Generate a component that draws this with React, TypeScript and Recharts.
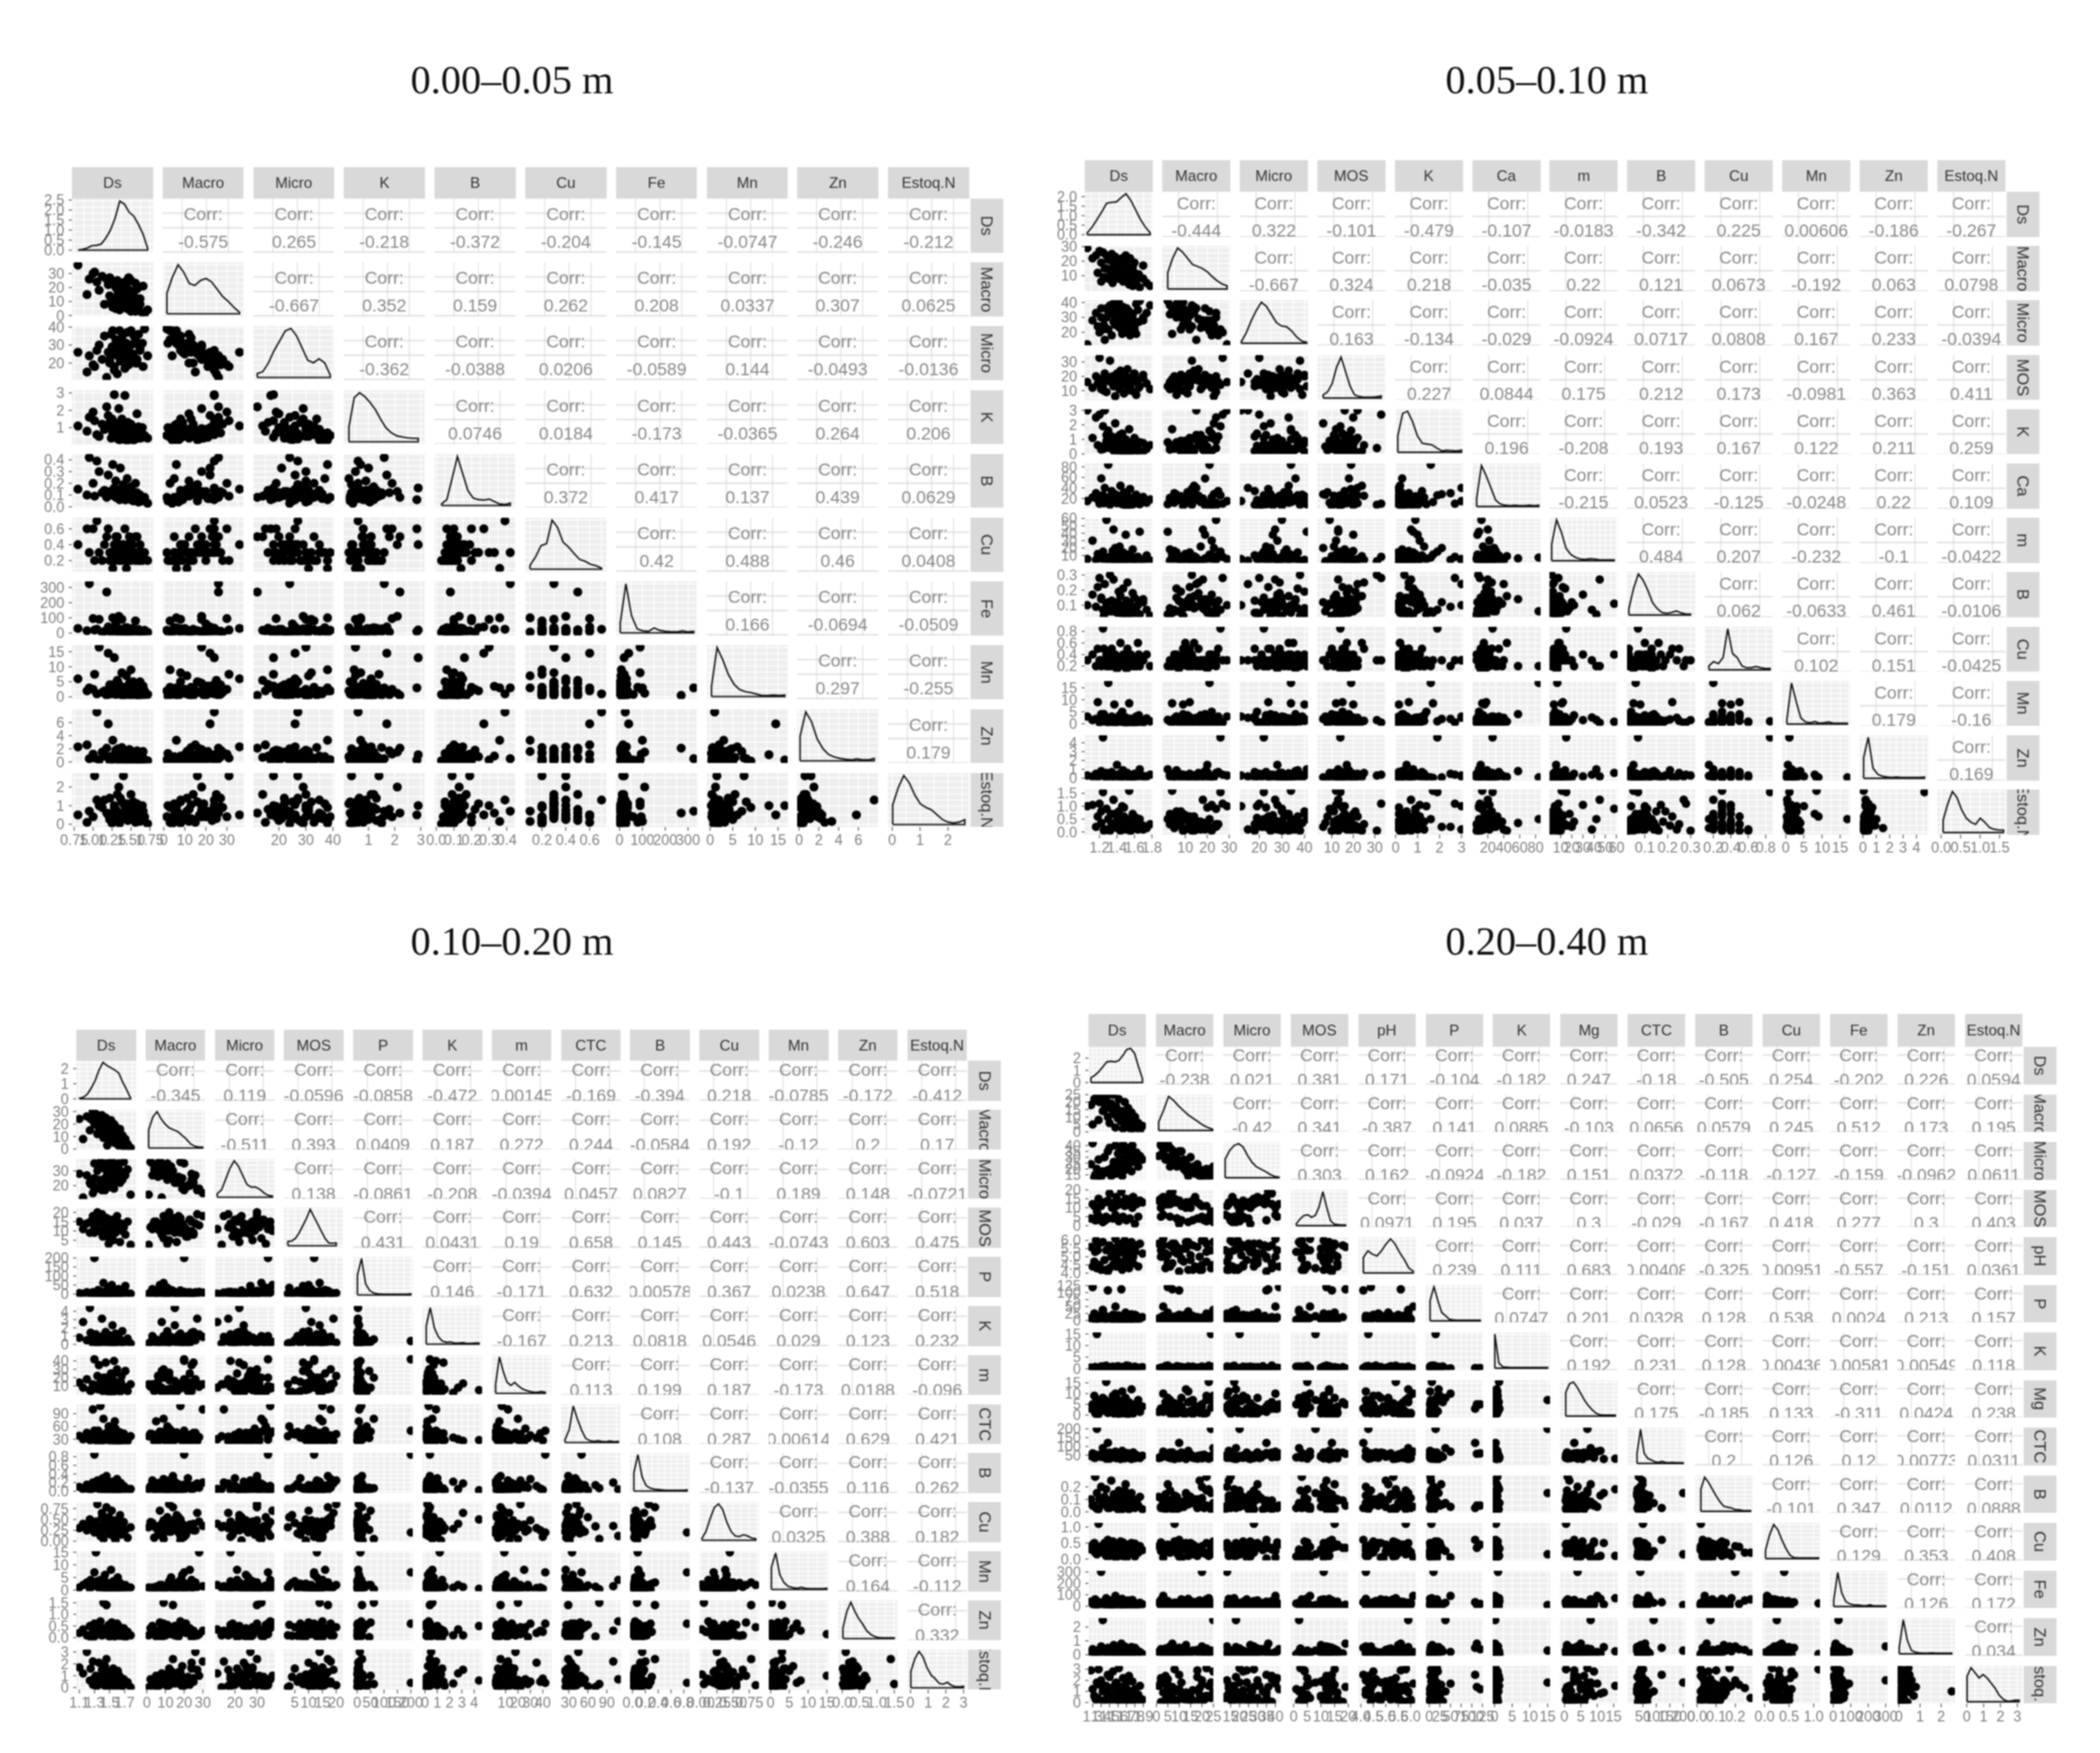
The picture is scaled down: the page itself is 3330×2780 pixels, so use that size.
import React from 'react';
import { ScatterChart, Scatter, LineChart, Line, XAxis, YAxis, CartesianGrid } from 'recharts';

// ---------- 0.00-0.05 m ----------
const m1Title = '0.00–0.05 m';
const m1Names = ['Ds', 'Macro', 'Micro', 'K', 'B', 'Cu', 'Fe', 'Mn', 'Zn', 'Estoq.N'];
const m1Ds = [0.8,0.92,0.95,1.0,1.02,1.05,1.08,1.12,1.15,1.18,1.2,1.22,1.24,1.26,1.28,1.3,1.3,1.32,1.34,1.35,1.36,1.38,1.38,1.4,1.42,1.44,1.45,1.46,1.48,1.5,1.5,1.52,1.54,1.56,1.58,1.6,1.62,1.65,1.68,1.72];
const m1Macro = [36,15,26,30,31,24,18,28,8,26,22,27,12,6,24,20,12,25,18,4,22,13,8,16,24,11,5,9,18,14,3,10,7,3,12,5,8,2,1.5,4];
const m1Micro = [26,15,24,19,18,27,30,22,35,12,26,22,36,38,18,25,30,14,29,38,21,34,32,27,17,31,37,28,24,30,38,25,35,33,20,36,27,31,39,24];
const m1K = [1.1,0.8,1.6,1.9,1.4,0.6,0.5,1.2,0.9,2.2,1.7,1.3,0.4,0.7,2.9,0.6,0.9,1.1,2.1,0.3,1.0,1.5,0.7,0.35,2.85,0.5,0.25,1.3,0.8,1.2,0.45,0.95,0.3,0.6,1.8,0.7,0.4,1.0,0.55,0.4];
const m1B = [0.15,0.1,0.42,0.2,0.09,0.39,0.3,0.12,0.14,0.08,0.27,0.13,0.11,0.36,0.16,0.1,0.22,0.09,0.13,0.07,0.33,0.12,0.1,0.19,0.06,0.14,0.24,0.08,0.11,0.17,0.06,0.13,0.09,0.2,0.12,0.07,0.1,0.05,0.08,0.03];
const m1Cu = [0.4,0.6,0.3,0.6,0.2,0.7,0.3,0.2,0.4,0.5,0.6,0.3,0.3,0.1,0.4,0.2,0.3,0.5,0.4,0.2,0.3,0.2,0.3,0.4,0.6,0.1,0.3,0.2,0.5,0.3,0.2,0.4,0.3,0.2,0.5,0.3,0.4,0.2,0.3,0.2];
const m1Fe = [30,15,325,95,20,25,90,5,10,270,40,12,8,100,20,60,5,18,110,3,25,8,90,14,10,6,35,22,4,12,8,30,15,80,7,20,3,9,18,5];
const m1Mn = [6,2,3,2.5,7.5,1,16.5,1.5,2,0.5,14.5,4,1,3,13,0.8,2.5,5.5,1.2,2,3.5,0.6,8,1.5,3,7,2,1.2,4.5,0.4,9,2.5,1,3.2,0.7,1.8,5,0.3,2,0.8];
const m1Zn = [2.3,2.6,0.5,1.2,0.6,7.6,0.3,1.5,0.9,2.1,5.8,0.8,0.4,3.3,1.1,0.3,1.8,0.7,1.5,0.2,0.9,2.2,0.5,1.2,0.3,1.6,0.8,0.2,1.9,0.5,0.15,1.1,0.6,0.25,1.7,0.4,0.1,1.3,0.35,0.2];
const m1Est = [0.5,0.1,0.7,0.4,2.6,1.3,1.0,0.9,1.3,0.6,0.5,1.4,0.3,0.15,1.0,0.4,0.8,1.6,2.0,0.05,0.6,0.3,1.2,2.6,0.5,0.7,1.1,0.2,0.4,1.6,0.9,0.3,0.6,0.1,0.8,0.5,0.25,1.0,0.4,0.02];
const m1Base = [m1Ds, m1Macro, m1Micro, m1K, m1B, m1Cu, m1Fe, m1Mn, m1Zn, m1Est];
const m1More = [
  [1.44,1.22,1.58,1.35,1.28,1.62,1.47,1.3,1.53,1.4,1.25,1.66,1.36,1.5,1.43,1.33,1.56,1.41,1.6,1.46],
  [22,14,19,9,24,12,27,5,16,20,8,21,11,25,6,17,23,13,7,18],
  [24,20,22,26,16,28,19,33,25,23,29,18,27,21,31,24,20,26,30,22],
  [0.6,1.0,0.4,0.8,1.3,0.5,0.7,1.1,0.3,0.9,1.5,0.45,0.65,0.85,1.2,0.35,0.75,0.55,1.05,0.95],
  [0.07,0.12,0.1,0.06,0.14,0.09,0.11,0.08,0.05,0.13,0.1,0.07,0.15,0.09,0.06,0.12,0.08,0.11,0.04,0.1],
  [0.3,0.2,0.3,0.4,0.3,0.2,0.3,0.5,0.3,0.4,0.2,0.3,0.3,0.4,0.2,0.3,0.5,0.3,0.2,0.4],
  [10,25,6,18,32,12,4,22,15,8,28,3,20,14,35,9,17,6,24,11],
  [1.2,3,0.6,2.2,4.2,1.5,0.9,2.8,5,0.5,1.8,3.6,1,2.4,0.7,4.8,1.4,3.2,0.4,2],
  [0.7,0.2,1.4,0.5,0.9,0.3,1.8,0.6,0.15,1.1,0.4,1.6,0.25,0.8,0.35,2,0.5,1.2,0.1,0.65],
  [0.6,0.25,1.1,0.45,0.8,0.15,0.95,0.35,1.2,0.55,0.05,0.7,1.4,0.3,0.9,0.5,0.2,1.05,0.4,0.75],
];
const m1Density = [
  [0,0.04,0.1,0.22,0.24,0.3,0.6,1,1.6,2.45,2.3,1.9,1.7,1.3,0.8,0.1],
  [0.42,0.75,1,0.85,0.62,0.58,0.68,0.72,0.65,0.5,0.35,0.25,0.13,0.03],
  [0.08,0.12,0.3,0.55,0.75,0.95,1,0.85,0.6,0.35,0.3,0.38,0.3,0.05],
  [0.3,0.9,1,0.92,0.8,0.65,0.45,0.28,0.18,0.12,0.1,0.08,0.07,0.07],
  [0.03,0.12,0.55,1,0.65,0.3,0.15,0.12,0.11,0.13,0.08,0.03,0.02,0.05],
  [0.08,0.25,0.48,0.52,1,0.85,0.55,0.45,0.32,0.2,0.16,0.1,0.07,0.02],
  [0.2,1,0.35,0.08,0.04,0.03,0.1,0.05,0.03,0.02,0.02,0.04,0.02,0.03],
  [0.2,1,0.75,0.45,0.25,0.14,0.1,0.08,0.05,0.02,0.02,0.03,0.02,0.03],
  [0.5,1,0.8,0.45,0.25,0.13,0.08,0.05,0.03,0.02,0.04,0.02,0.02,0.05],
  [0.4,0.75,1,0.85,0.6,0.42,0.35,0.3,0.2,0.1,0.05,0.03,0.05,0.1],
];
const m1Domains = [[0.72,1.79],[-0.5,38],[10.6,40.6],[0.05,3.15],[-0.01,0.45],[0.06,0.74],[-15,340],[-0.7,17.2],[-0.2,8],[-0.15,2.75]];
const m1Ticks = [['0.75','1.00','1.25','1.50','1.75'],['0','10','20','30'],['20','30','40'],['1','2','3'],['0.0','0.1','0.2','0.3','0.4'],['0.2','0.4','0.6'],['0','100','200','300'],['0','5','10','15'],['0','2','4','6'],['0','1','2']];
const m1DensTicks = ['0.0','0.5','1.0','1.5','2.0','2.5'];
const m1Corr = [
  ['-0.575','0.265','-0.218','-0.372','-0.204','-0.145','-0.0747','-0.246','-0.212'],
  ['-0.667','0.352','0.159','0.262','0.208','0.0337','0.307','0.0625'],
  ['-0.362','-0.0388','0.0206','-0.0589','0.144','-0.0493','-0.0136'],
  ['0.0746','0.0184','-0.173','-0.0365','0.264','0.206'],
  ['0.372','0.417','0.137','0.439','0.0629'],
  ['0.42','0.488','0.46','0.0408'],
  ['0.166','-0.0694','-0.0509'],
  ['0.297','-0.255'],
  ['0.179'],
];

// ---------- 0.05-0.10 m ----------
const m2Title = '0.05–0.10 m';
const m2Names = ['Ds','Macro','Micro','MOS','K','Ca','m','B','Cu','Mn','Zn','Estoq.N'];
const m2Ds = [1.06,1.12,1.16,1.18,1.2,1.22,1.24,1.26,1.28,1.3,1.32,1.34,1.36,1.37,1.38,1.4,1.42,1.43,1.44,1.46,1.47,1.48,1.5,1.51,1.52,1.54,1.55,1.56,1.58,1.6,1.62,1.64,1.66,1.7,1.74,1.78];
const m2Macro = [29,22,24,12,27,19,26,15,24,21,13,25,18,9,23,20,8,17,14,22,6,11,19,7,16,4,13,9,3,12,6,10,2,8,5,3];
const m2Micro = [12,28,33,24,20,36,22,15,30,34,38,18,27,40,25,28,40,23,33,19,37,31,26,36,29,34,24,30,32,22,39,35,41,30,33,38];
const m2MOS = [16,12,20,15,33,18,14,22,9,19,31,16,13,20,6,17,21,11,24,15,18,8,20,14,25,12,19,10,16,22,7,17,13,21,15,11];
const m2K = [3,1.1,2.5,0.6,2.7,0.3,1.9,3,0.9,1.6,0.4,1.2,0.7,0.15,2.1,0.5,0.9,1.3,0.2,1.4,0.8,0.25,1,0.4,0.6,1.7,0.1,0.7,0.3,1.1,0.5,0.2,0.8,0.15,0.35,0.6];
const m2Ca = [15,22,30,18,10,58,26,40,12,84,8,34,20,16,28,11,24,14,44,9,19,32,7,17,25,13,38,6,21,11,27,15,9,23,12,18];
const m2m = [5,30,4,12,8,6,15,3,58,7,2,10,45,4,20,6,3,22,9,5,14,2,38,7,4,11,3,6,18,5,2,8,42,4,10,3];
const m2B = [0.1,0.17,0.09,0.22,0.28,0.14,0.07,0.24,0.11,0.06,0.3,0.13,0.27,0.08,0.12,0.05,0.19,0.1,0.16,0.04,0.21,0.09,0.07,0.13,0.25,0.05,0.11,0.03,0.08,0.15,0.06,0.1,0.04,0.12,0.07,0.03];
const m2Cu = [0.3,0.4,0.2,0.5,0.3,0.2,0.85,0.3,0.4,0.2,0.3,0.5,0.2,0.4,0.3,0.15,0.3,0.2,0.6,0.3,0.4,0.2,0.3,0.15,0.5,0.3,0.2,0.4,0.3,0.2,0.3,0.6,0.2,0.3,0.4,0.2];
const m2Mn = [3,1.5,2,9,0.5,4,1,2.5,0.8,17,1.5,3,0.4,8,2,0.6,1.2,3.5,0.9,5,1.8,0.3,2.6,0.7,1.2,8.5,0.5,2,1,0.3,3,0.6,1.6,0.4,2.2,1];
const m2Zn = [0.3,0.2,0.5,0.1,0.4,0.8,4.6,0.2,0.6,0.1,0.3,0.7,0.2,0.4,0.1,1.5,0.3,0.5,0.15,0.2,0.9,0.1,0.4,0.25,0.6,0.05,0.3,0.1,0.2,0.5,0.05,0.3,1.0,0.1,0.2,0.4];
const m2Est = [1,1.05,0.2,0.6,1.1,0.35,1.55,0.1,0.9,0.5,0.05,0.3,1.25,0.7,0.2,0.15,0.8,0.4,0.05,1.0,0.25,0.6,0.1,0.5,0.3,1.6,0.4,0.05,0.7,0.2,0.35,0.1,0.5,0.25,0.15,0.3];
const m2Base = [m2Ds,m2Macro,m2Micro,m2MOS,m2K,m2Ca,m2m,m2B,m2Cu,m2Mn,m2Zn,m2Est];
const m2More = [
  [1.45,1.3,1.55,1.38,1.22,1.6,1.42,1.5,1.28,1.65,1.35,1.48,1.58,1.25,1.4,1.52,1.33,1.7,1.44,1.62],
  [18,8,22,13,6,19,10,24,15,11,5,20,16,9,14,21,7,17,12,4],
  [28,22,18,34,30,24,26,20,36,27,32,23,29,25,37,21,33,28,31,19],
  [15,19,13,17,11,21,16,14,18,12,20,15,17,10,22,14,16,19,13,18],
  [0.3,0.7,0.2,1,0.5,0.1,0.9,0.4,1.3,0.25,0.6,0.15,0.8,0.35,1.1,0.2,0.45,0.75,0.1,0.55],
  [12,20,8,15,25,10,18,6,22,14,30,9,16,11,26,7,19,13,24,17],
  [3,6,10,2,8,4,12,5,7,3,16,6,2,9,4,11,5,3,14,7],
  [0.08,0.12,0.05,0.1,0.15,0.07,0.11,0.04,0.09,0.13,0.06,0.1,0.18,0.03,0.08,0.12,0.06,0.14,0.09,0.05],
  [0.3,0.2,0.3,0.4,0.3,0.2,0.3,0.3,0.2,0.4,0.3,0.3,0.2,0.5,0.3,0.4,0.2,0.3,0.3,0.2],
  [1,0.5,2,1.5,3,0.7,2.5,0.4,1.2,3.5,0.9,1.8,0.6,4,1.4,0.3,2.2,1.1,2.8,0.8],
  [0.2,0.4,0.1,0.3,0.6,0.15,0.25,0.5,0.05,0.35,0.2,0.7,0.1,0.4,0.3,0.15,0.55,0.25,0.05,0.45],
  [0.2,0.5,0.05,0.35,0.8,0.15,0.65,0.3,0.1,0.45,0.25,0.95,0.4,0.05,0.6,0.2,0.7,0.1,0.3,0.55],
];
const m2Density = [
  [0.1,0.4,0.8,1.2,1.65,1.7,1.72,1.95,2.15,1.8,1.3,0.8,0.4,0.1],
  [0.4,0.75,1,0.9,0.75,0.6,0.55,0.5,0.42,0.3,0.2,0.12,0.08],
  [0.03,0.25,0.55,0.8,1,0.9,0.7,0.5,0.42,0.4,0.3,0.15,0.05,0.02],
  [0.08,0.15,0.35,0.75,1,0.65,0.3,0.08,0.04,0.02,0.02,0.02,0.03,0.05],
  [0.4,0.95,1,0.75,0.4,0.22,0.2,0.18,0.1,0.03,0.05,0.04,0.03,0.05],
  [0.2,1,0.75,0.45,0.15,0.06,0.03,0.02,0.03,0.02,0.02,0.03,0.02,0.03],
  [0.4,1,0.7,0.3,0.15,0.08,0.04,0.03,0.05,0.04,0.02,0.02,0.02,0.02],
  [0.15,0.65,1,0.85,0.6,0.3,0.15,0.06,0.04,0.06,0.1,0.05,0.02,0.02],
  [0.1,0.2,0.15,0.3,1,0.4,0.3,0.1,0.05,0.05,0.08,0.05,0.03,0.03],
  [0.1,1,0.55,0.15,0.05,0.03,0.06,0.02,0.03,0.05,0.02,0.02,0.02,0.02],
  [0.5,1,0.25,0.1,0.05,0.03,0.02,0.03,0.02,0.02,0.02,0.02,0.02,0.03],
  [0.3,0.7,1,0.85,0.55,0.35,0.25,0.2,0.35,0.25,0.12,0.08,0.06,0.06],
];
const m2Domains = [[1.03,1.81],[-0.5,30.5],[11.4,41.5],[3.3,35],[-0.03,3.07],[0.8,86.4],[0,61],[0.022,0.32],[0.1,0.88],[-1,17.8],[-0.24,4.85],[-0.1,1.65]];
const m2Ticks = [['1.2','1.4','1.6','1.8'],['10','20','30'],['20','30','40'],['10','20','30'],['0','1','2','3'],['20','40','60','80'],['10','20','30','40','50','60'],['0.1','0.2','0.3'],['0.2','0.4','0.6','0.8'],['0','5','10','15'],['0','1','2','3','4'],['0.0','0.5','1.0','1.5']];
const m2DensTicks = ['0.0','0.5','1.0','1.5','2.0'];
const m2Corr = [
  ['-0.444','0.322','-0.101','-0.479','-0.107','-0.0183','-0.342','0.225','0.00606','-0.186','-0.267'],
  ['-0.667','0.324','0.218','-0.035','0.22','0.121','0.0673','-0.192','0.063','0.0798'],
  ['0.163','-0.134','-0.029','-0.0924','0.0717','0.0808','0.167','0.233','-0.0394'],
  ['0.227','0.0844','0.175','0.212','0.173','-0.0981','0.363','0.411'],
  ['0.196','-0.208','0.193','0.167','0.122','0.211','0.259'],
  ['-0.215','0.0523','-0.125','-0.0248','0.22','0.109'],
  ['0.484','0.207','-0.232','-0.1','-0.0422'],
  ['0.062','-0.0633','0.461','-0.0106'],
  ['0.102','0.151','-0.0425'],
  ['0.179','-0.16'],
  ['0.169'],
];

// ---------- 0.10-0.20 m ----------
const m3Title = '0.10–0.20 m';
const m3Names = ['Ds','Macro','Micro','MOS','P','K','m','CTC','B','Cu','Mn','Zn','Estoq.N'];
const m3Ds = [1.1,1.15,1.2,1.24,1.28,1.3,1.32,1.34,1.36,1.38,1.4,1.41,1.42,1.44,1.45,1.46,1.48,1.49,1.5,1.52,1.53,1.54,1.55,1.56,1.57,1.58,1.6,1.61,1.62,1.64,1.65,1.67,1.69,1.71,1.74,1.78];
const m3Macro = [24,8,26,15,30,20,28,12,24,18,27,22,9,19,25,14,21,11,17,23,7,15,12,20,5,18,9,13,3,16,6,11,2,8,4,1];
const m3Micro = [28,12,27,22,15,35,18,30,24,36,17,20,32,25,22,30,19,34,26,21,37,24,28,18,33,23,30,26,35,22,29,24,36,27,31,14];
const m3MOS = [15,11,14,9,18,12,13,20,10,15,19,7,14,12,8,17,11,3,13,16,10,14,5,12,15,9,18,13,11,4,14,10,12,8,15,2.5];
const m3P = [5,2,10,3,8,200,12,6,4,15,3,9,62,7,2,18,5,35,10,4,50,7,3,12,6,20,2,9,28,5,13,3,8,45,4,2];
const m3K = [0.8,2.7,0.5,4.4,0.9,0.4,1.2,0.2,0.7,0.3,3.1,1,0.6,0.25,1.5,0.4,0.8,0.15,1.1,0.6,0.3,2.3,0.5,0.9,0.2,1.3,0.35,0.7,1,0.15,0.5,1.6,0.25,0.4,0.7,0.1];
const m3m = [14,8,18,5,12,42,9,22,35,7,13,4,20,10,38,6,16,3,11,25,8,2,17,40,5,13,30,7,10,3,15,6,9,28,4,12];
const m3CTC = [38,30,45,28,100,50,35,42,33,108,26,40,78,36,44,29,32,60,37,25,48,34,41,27,72,31,39,24,35,46,30,28,43,33,26,37];
const m3B = [0.1,0.05,0.15,0.02,0.2,0.85,0.08,0.25,0.12,0.04,0.18,0.3,0.07,0.13,0.06,0.35,0.1,0.02,0.16,0.09,0.05,0.22,0.11,0.03,0.14,0.07,0.28,0.04,0.1,0.06,0.19,0.02,0.12,0.08,0.03,0.05];
const m3Cu = [0.3,0.4,0.25,0.5,0.35,0.2,0.45,0.85,0.3,0.12,0.65,0.35,0.05,0.4,0.25,0.78,0.3,0.55,0.2,0.38,0.7,0.28,0.42,0.1,0.34,0.02,0.48,0.22,0.36,0.6,0.15,0.3,0.44,0.26,0.08,0.32];
const m3Mn = [1,2,3,0.5,1.5,7,15,2,0.8,4,1.2,2.5,0.3,6,1,3,0.6,1.8,0.4,8,2,0.9,3.5,0.5,1.3,2.2,0.2,5,1,2.8,0.7,1.5,0.3,2,0.6,1];
const m3Zn = [0.2,0.35,0.1,0.5,0.3,0.6,0.15,0.45,0.2,0.7,0.1,0.25,1.5,0.4,0.3,1.4,0.2,0.55,0.05,0.3,0.65,0.1,0.45,0.25,0.05,0.35,0.6,0.15,0.5,0.08,0.3,0.2,0.4,0.02,0.25,0.1];
const m3Est = [1.7,1.2,3,0.6,2.2,0.4,1,0.2,2.1,0.7,1.5,0.9,0.3,1.8,0.5,2.4,0.8,0.1,1.3,0.6,1,0.35,1.6,0.75,0.05,1.1,0.5,1.4,0.2,0.9,0.55,0.15,0.7,0.3,0.45,0.02];
const m3Base = [m3Ds,m3Macro,m3Micro,m3MOS,m3P,m3K,m3m,m3CTC,m3B,m3Cu,m3Mn,m3Zn,m3Est];
const m3More = [
  [1.5,1.38,1.6,1.44,1.3,1.55,1.42,1.66,1.35,1.52,1.47,1.25,1.58,1.4,1.63,1.33,1.49,1.56,1.28,1.45],
  [16,22,10,20,25,8,18,6,13,21,3,24,12,17,5,19,9,15,23,11],
  [24,20,28,17,25,30,22,26,33,19,27,21,29,23,31,18,32,25,20,35],
  [13,10,15,12,9,14,17,11,16,7,13,15,10,18,12,14,6,11,16,13],
  [3,8,1,12,5,15,2,6,22,4,9,2,14,3,7,1,18,5,10,2],
  [0.5,0.2,0.8,0.35,1.1,0.15,0.6,0.3,0.9,0.1,0.45,1.4,0.25,0.7,0.4,0.2,1,0.55,0.15,0.75],
  [8,14,5,18,11,3,9,22,6,15,12,4,26,7,13,10,2,16,6,20],
  [32,40,27,36,45,30,38,25,50,34,42,28,55,35,31,26,47,33,39,29],
  [0.05,0.1,0.02,0.15,0.07,0.2,0.03,0.12,0.06,0.09,0.25,0.04,0.14,0.08,0.02,0.11,0.17,0.05,0.13,0.03],
  [0.35,0.25,0.45,0.3,0.4,0.2,0.5,0.33,0.28,0.15,0.42,0.38,0.22,0.55,0.3,0.36,0.18,0.48,0.27,0.4],
  [0.5,1.5,1,0.3,2.5,0.8,3,0.4,1.2,2,0.6,4,0.2,1.6,0.9,3.4,0.7,1.1,2.4,0.4],
  [0.2,0.4,0.1,0.3,0.05,0.5,0.25,0.15,0.35,0.6,0.2,0.02,0.45,0.1,0.3,0.55,0.08,0.25,0.4,0.15],
  [0.6,0.3,1.1,0.15,0.8,0.45,1.3,0.05,0.9,0.55,0.2,1.6,0.7,0.35,1,0.1,0.5,1.2,0.25,0.65],
];
const m3Density = [
  [0.03,0.1,0.3,0.7,1.2,1.9,2.4,2.2,2.05,1.9,1.7,1.1,0.6,0.05],
  [0.5,0.85,1,0.8,0.65,0.55,0.5,0.45,0.35,0.25,0.12,0.05,0.03,0.02],
  [0.1,0.2,0.5,0.8,1,0.85,0.6,0.35,0.28,0.28,0.22,0.12,0.05,0.03],
  [0.12,0.13,0.2,0.35,0.55,0.75,1,0.8,0.6,0.4,0.2,0.08,0.07,0.08],
  [0.55,1,0.3,0.12,0.05,0.03,0.02,0.02,0.02,0.02,0.02,0.02,0.02,0.03],
  [0.5,1,0.45,0.2,0.08,0.05,0.06,0.03,0.03,0.04,0.02,0.02,0.03,0.03],
  [0.25,1,0.6,0.3,0.22,0.3,0.2,0.12,0.08,0.05,0.03,0.03,0.05,0.03],
  [0.08,0.35,1,0.65,0.35,0.12,0.05,0.03,0.05,0.03,0.02,0.04,0.02,0.03],
  [0.5,1,0.4,0.15,0.08,0.05,0.04,0.03,0.02,0.02,0.02,0.02,0.02,0.03],
  [0.05,0.25,0.6,0.9,1,0.85,0.5,0.25,0.12,0.1,0.15,0.12,0.06,0.04],
  [0.6,1,0.4,0.18,0.08,0.05,0.03,0.06,0.03,0.02,0.02,0.02,0.02,0.03],
  [0.3,0.75,1,0.75,0.55,0.4,0.22,0.12,0.06,0.03,0.02,0.02,0.02,0.02],
  [0.45,0.8,1,0.85,0.55,0.35,0.25,0.12,0.1,0.15,0.07,0.03,0.03,0.04],
];
const m3Domains = [[1.06,1.85],[-0.6,31.3],[11,38],[1,22.6],[-15,207],[-0.2,4.65],[-1,47],[18,112],[-0.04,0.89],[-0.02,0.9],[-0.5,15.4],[-0.12,1.6],[-0.17,3.2]];
const m3Ticks = [['1.1','1.3','1.5','1.7'],['0','10','20','30'],['20','30'],['5','10','15','20'],['0','50','100','150','200'],['0','1','2','3','4'],['10','20','30','40'],['30','60','90'],['0.0','0.2','0.4','0.6','0.8'],['0.00','0.25','0.50','0.75'],['0','5','10','15'],['0.0','0.5','1.0','1.5'],['0','1','2','3']];
const m3DensTicks = ['0','1','2'];
const m3Corr = [
  ['-0.345','0.119','-0.0596','-0.0858','-0.472','0.00145','-0.169','-0.394','0.218','-0.0785','-0.172','-0.412'],
  ['-0.511','0.393','0.0409','0.187','0.272','0.244','-0.0584','0.192','-0.12','0.2','0.17'],
  ['0.138','-0.0861','-0.208','-0.0394','0.0457','0.0827','-0.1','0.189','0.148','-0.0721'],
  ['0.431','0.0431','0.19','0.658','0.145','0.443','-0.0743','0.603','0.475'],
  ['0.146','-0.171','0.632','0.00578','0.367','0.0238','0.647','0.518'],
  ['-0.167','0.213','0.0818','0.0546','0.029','0.123','0.232'],
  ['0.113','0.199','0.187','-0.173','0.0188','-0.096'],
  ['0.108','0.287','0.00614','0.629','0.421'],
  ['-0.137','-0.0355','0.116','0.262'],
  ['0.0325','0.388','0.182'],
  ['0.164','-0.112'],
  ['0.332'],
];

// ---------- 0.20-0.40 m ----------
const m4Title = '0.20–0.40 m';
const m4Names = ['Ds','Macro','Micro','MOS','pH','P','K','Mg','CTC','B','Cu','Fe','Zn','Estoq.N'];
const m4Ds = [1.28,1.3,1.33,1.35,1.37,1.4,1.42,1.44,1.46,1.48,1.5,1.52,1.54,1.55,1.57,1.58,1.6,1.61,1.62,1.64,1.65,1.66,1.68,1.69,1.7,1.72,1.73,1.74,1.76,1.77,1.78,1.8,1.82,1.84,1.86,1.89];
const m4Macro = [18,5,22,24,8,20,25,15,23,10,6,19,25,13,3,17,9,22,12,7,14,2,20,5,11,16,4,9,13,2,7,10,3,6,1,4];
const m4Micro = [24,42,15,20,28,13,18,30,17,35,38,14,22,26,40,16,33,20,28,36,14,41,19,30,35,22,38,25,18,40,30,26,34,22,31,28];
const m4MOS = [4,12,3,8,15,11,2,13,5,14,18,12,4,10,6,16,13,2.5,12,19,13,5,11,15,3,14,12,4,13,10,16,1,12,5,14,13];
const m4pH = [5.6,4.4,5.3,4.3,5.8,4.2,5.9,4.8,5.4,4.1,5.7,5,4.5,5.5,6.1,4.4,5.2,5.8,4.7,5.6,4.2,5.4,6,5.1,4.9,5.7,4.3,5.5,5.9,5,4.6,5.3,5.7,4.4,5.8,5.2];
const m4P = [8,120,3,15,5,10,38,2,6,108,12,4,20,7,50,3,9,18,5,112,2,11,6,28,4,14,3,8,22,5,10,2,16,4,7,12];
const m4K = [0.5,0.3,0.8,15,0.4,1,0.2,0.6,1.3,0.3,0.7,0.1,0.9,0.4,0.2,0.5,1.1,0.3,0.6,0.2,0.8,0.4,0.1,0.7,0.3,0.5,1.2,0.2,0.6,0.4,0.1,0.9,0.3,0.5,0.2,0.7];
const m4Mg = [3,5,1,7,0.5,4,8,2,15.5,3,6,1.5,9,0.8,10,4,2,7,0.6,5,11,3,1,8,4,0.4,6,2,12,3,0.8,5,2.5,7,1.5,4];
const m4CTC = [45,60,35,200,50,40,90,55,30,120,65,48,38,42,70,33,52,44,36,58,75,40,32,48,62,35,46,54,28,41,66,37,50,43,34,47];
const m4B = [0.1,0.05,0.28,0.15,0.02,0.2,0.07,0.12,0.18,0.03,0.09,0.25,0.06,0.14,0.04,0.1,0.02,0.17,0.08,0.05,0.13,0.03,0.11,0.22,0.06,0.09,0.02,0.07,0.15,0.04,0.1,0.03,0.08,0.05,0.12,0.02];
const m4Cu = [0.3,0.45,0.2,0.15,1.1,0.4,0.25,0.5,0.1,0.6,0.35,0.2,0.55,0.3,0.05,0.4,0.28,0.15,0.48,0.35,0.1,0.52,0.22,0.38,0.02,0.45,0.3,0.18,0.5,0.25,0.42,0.08,0.33,0.2,0.4,0.28];
const m4Fe = [40,20,60,10,25,300,30,15,70,35,5,50,22,12,90,18,28,8,45,14,65,6,32,20,10,38,4,26,16,55,8,24,12,3,30,18];
const m4Zn = [0.2,0.4,0.1,0.3,0.05,0.6,2.5,0.15,0.25,0.5,0.1,0.35,0.05,0.7,0.2,0.3,0.02,0.45,0.15,0.8,0.1,0.25,0.05,0.4,0.18,0.3,0.02,0.12,0.55,0.08,0.22,0.04,0.35,0.1,0.2,0.05];
const m4Est = [2.9,1.2,0.4,1.8,3,2,1,0.2,1.5,2.5,0.05,1.3,2.8,0.6,1.7,0.1,1,3.1,0.3,1.4,0.8,2.2,0.05,1.6,0.5,1.1,2.4,0.15,0.9,1.9,0.4,1.2,0.02,0.7,1.5,0.25];
const m4Base = [m4Ds,m4Macro,m4Micro,m4MOS,m4pH,m4P,m4K,m4Mg,m4CTC,m4B,m4Cu,m4Fe,m4Zn,m4Est];
const m4More = [
  [1.55,1.38,1.65,1.45,1.72,1.32,1.6,1.5,1.78,1.42,1.68,1.36,1.58,1.75,1.48,1.63,1.34,1.7,1.53,1.8],
  [12,20,7,16,4,22,9,18,3,14,6,24,11,2,19,8,21,5,15,10],
  [20,14,25,17,30,13,22,18,35,16,28,12,24,32,19,26,15,38,21,27],
  [12,5,13,3,14,11,4,13,16,2,12,6,11,15,4,13,3,12,10,14],
  [5.5,4.5,5.8,4.2,5.2,4.7,5.6,4.3,5,5.9,4.4,5.4,4.8,5.7,4.2,5.3,6,4.6,5.1,5.5],
  [5,10,3,16,7,25,2,12,6,32,4,9,18,3,8,14,2,11,5,20],
  [0.3,0.6,0.1,0.9,0.4,0.2,0.7,0.5,0.15,1,0.35,0.25,0.8,0.45,0.1,0.55,0.3,1.4,0.2,0.65],
  [2,5,1,7,3,9,0.6,4,1.5,6,0.8,3.5,8,2.5,1,5.5,0.5,3,6.5,1.8],
  [38,50,32,44,60,35,48,30,55,40,34,46,65,36,42,28,52,38,45,33],
  [0.04,0.1,0.02,0.07,0.14,0.05,0.12,0.03,0.09,0.06,0.17,0.02,0.08,0.11,0.04,0.13,0.03,0.07,0.1,0.05],
  [0.3,0.2,0.4,0.15,0.35,0.5,0.25,0.1,0.45,0.3,0.2,0.38,0.05,0.42,0.28,0.55,0.18,0.33,0.22,0.48],
  [15,35,8,25,50,12,20,5,40,18,28,10,60,22,6,32,14,45,9,26],
  [0.1,0.3,0.05,0.2,0.45,0.15,0.02,0.35,0.1,0.25,0.6,0.05,0.18,0.4,0.08,0.3,0.12,0.02,0.22,0.5],
  [0.3,1.6,0.05,1.1,2,0.6,0.2,2.3,0.9,0.1,1.4,0.4,1.8,0.02,0.7,1.2,0.25,2.1,0.5,1],
];
const m4Density = [
  [0.4,0.6,0.9,1.3,1.7,1.75,1.7,1.8,2.2,2.7,2.8,2.4,1.3,0.3],
  [0.25,0.6,1,0.88,0.72,0.58,0.45,0.35,0.25,0.15,0.08,0.03],
  [0.55,0.8,0.95,1,0.9,0.65,0.45,0.32,0.25,0.18,0.1,0.04,0.02],
  [0.06,0.2,0.3,0.32,0.25,0.3,0.55,1,0.55,0.15,0.05,0.03,0.02,0.02],
  [0.45,0.65,0.55,0.5,0.65,0.85,1,0.85,0.6,0.4,0.15,0.05],
  [0.6,1,0.6,0.25,0.15,0.05,0.03,0.02,0.02,0.02,0.02,0.02,0.02,0.02],
  [1,0.15,0.04,0.03,0.02,0.02,0.02,0.02,0.02,0.02,0.02,0.02,0.02,0.02],
  [0.7,0.95,1,0.85,0.65,0.45,0.3,0.18,0.08,0.04,0.03,0.03,0.03,0.03],
  [0.3,1,0.3,0.15,0.1,0.05,0.03,0.06,0.03,0.02,0.03,0.02,0.02,0.02],
  [0.65,1,0.85,0.65,0.45,0.28,0.15,0.12,0.1,0.05,0.05,0.02,0.02,0.02],
  [0.25,0.7,1,0.85,0.55,0.3,0.1,0.03,0.02,0.02,0.02,0.02,0.02,0.02],
  [0.2,1,0.4,0.15,0.08,0.05,0.05,0.03,0.02,0.05,0.02,0.02,0.02,0.02],
  [0.2,1,0.4,0.1,0.05,0.03,0.02,0.02,0.03,0.02,0.02,0.02,0.02,0.02],
  [0.75,1,0.85,0.7,0.8,0.7,0.55,0.4,0.2,0.08,0.02,0.02,0.05,0.05],
];
const m4Domains = [[1.25,1.93],[-0.2,25],[11,43],[-1,20],[3.9,6.2],[-8,127],[-0.5,15.7],[-1.3,16.2],[-7,207],[-0.01,0.29],[-0.04,1.13],[-18,310],[-0.06,2.65],[-0.1,3.3]];
const m4Ticks = [['1.3','1.4','1.5','1.6','1.7','1.8','1.9'],['0','5','10','15','20','25'],['15','20','25','30','35','40'],['0','5','10','15','20'],['4.0','4.5','5.0','5.5','6.0'],['0','25','50','75','100','125'],['0','5','10','15'],['0','5','10','15'],['50','100','150','200'],['0.0','0.1','0.2'],['0.0','0.5','1.0'],['0','100','200','300'],['0','1','2'],['0','1','2','3']];
const m4DensTicks = ['0','1','2'];
const m4Corr = [
  ['-0.238','0.021','0.381','0.171','-0.104','-0.182','0.247','-0.18','-0.505','0.254','-0.202','0.226','0.0594'],
  ['-0.42','0.341','-0.387','0.141','0.0885','-0.103','0.0656','0.0579','0.245','0.512','0.173','0.195'],
  ['0.303','0.162','-0.0924','-0.182','0.151','0.0372','-0.118','-0.127','-0.159','-0.0962','0.0611'],
  ['0.0971','0.195','0.037','0.3','-0.029','-0.167','0.418','0.277','0.3','0.403'],
  ['0.239','0.111','0.683','0.00408','-0.325','0.00951','-0.557','-0.151','0.0361'],
  ['0.0747','0.201','0.0328','0.128','0.538','0.0024','0.213','0.157'],
  ['0.192','0.231','0.128','0.00436','0.00581','0.00549','0.118'],
  ['0.175','-0.185','0.133','-0.311','0.0424','0.238'],
  ['0.2','0.126','0.12','0.00773','0.0311'],
  ['-0.101','0.347','0.0112','0.0888'],
  ['0.129','0.353','0.408'],
  ['0.126','0.172'],
  ['0.034'],
];

// ---------- layout, apart from the data ----------
const join = (a: number[][], b: number[][]) => a.map((v, i) => [...v, ...b[i]]);
const FONT = '"Liberation Sans", Arial, sans-serif';
const matrices = [
  { title: m1Title, titleX: 812, titleTop: 95, names: m1Names, values: join(m1Base, m1More), density: m1Density, domains: m1Domains, ticks: m1Ticks, densTicks: m1DensTicks, corr: m1Corr,
    x0: 114, w: 128.5, px: 143.8, y0: 315, h: 85.5, py: 101.2, stripTop: 265, r: 7.2, corrY: 0.29, valY: 0.8, lines: [0.27, 0.54, 0.8, 0.99] },
  { title: m2Title, titleX: 2453, titleTop: 95, names: m2Names, values: join(m2Base, m2More), density: m2Density, domains: m2Domains, ticks: m2Ticks, densTicks: m2DensTicks, corr: m2Corr,
    x0: 1720, w: 108, px: 122.9, y0: 304, h: 71.5, py: 86.2, stripTop: 254, r: 6.8, corrY: 0.26, valY: 0.86, lines: [0.29, 0.55, 0.84, 1] },
  { title: m3Title, titleX: 812, titleTop: 1461, names: m3Names, values: join(m3Base, m3More), density: m3Density, domains: m3Domains, ticks: m3Ticks, densTicks: m3DensTicks, corr: m3Corr,
    x0: 121, w: 94.5, px: 109.8, y0: 1682, h: 63.5, py: 77.8, stripTop: 1633, r: 6.8, corrY: 0.23, valY: 0.88, lines: [0.26, 0.64, 0.99] },
  { title: m4Title, titleX: 2453, titleTop: 1461, names: m4Names, values: join(m4Base, m4More), density: m4Density, domains: m4Domains, ticks: m4Ticks, densTicks: m4DensTicks, corr: m4Corr,
    x0: 1726, w: 91, px: 106.9, y0: 1660, h: 59.5, py: 75.5, stripTop: 1608, r: 6.8, corrY: 0.22, valY: 0.88, lines: [0.22, 0.5, 0.69, 0.87, 0.99] },
];
const LEFT = 75;
const BOTTOM = 46;
const PAD = 26;
const tickStyle = { fontSize: 23, fill: '#808080', fontFamily: FONT };
const tickLine = { stroke: '#555', strokeWidth: 1.5 };

const withMinor = (t: number[], lo: number, hi: number) => {
  const out: number[] = [...t];
  const step = t.length > 1 ? t[1] - t[0] : hi - lo;
  for (let v = t[0] - step / 2; v >= lo; v -= step) out.push(v);
  for (let v = t[0] + step / 2; v <= hi; v += step) { if (!out.includes(v)) out.push(v); }
  return out;
};

const Dot = (r: number) => (p: any) => <circle cx={p.cx} cy={p.cy} r={r} fill="#000" />;
const CorrShape = (p: any) => (
  <text x={p.cx} y={p.cy} textAnchor="middle" dominantBaseline="central" fontSize={28} fontFamily={FONT} fill="#8a8a8a">{p.payload.t}</text>
);

const xAxisProps = (show: boolean, dom: number[], labels: string[]) => ({
  dataKey: 'x', type: 'number' as const, domain: dom, allowDataOverflow: true, hide: !show,
  ticks: labels.map(Number), interval: 0 as const, height: BOTTOM, tick: tickStyle, tickSize: 6, tickMargin: 6,
  axisLine: false, tickLine, tickFormatter: (v: number) => labels[labels.map(Number).indexOf(v)],
});
const yAxisProps = (show: boolean, dom: number[], labels: string[]) => ({
  dataKey: 'y', type: 'number' as const, domain: dom, allowDataOverflow: true, hide: !show,
  ticks: labels.map(Number), interval: 0 as const, width: LEFT, tick: tickStyle, tickSize: 5, tickMargin: 7,
  axisLine: false, tickLine, tickFormatter: (v: number) => labels[labels.map(Number).indexOf(v)],
});

function Matrix({ m }: { m: any }) {
  const n = m.names.length;
  const cells: any[] = [];
  for (let i = 0; i < n; i++) {
    for (let j = 0; j < n; j++) {
      const left0 = m.x0 + j * m.px;
      const top0 = m.y0 + i * m.py;
      const key = `${i}-${j}`;
      const showY = j === 0;
      const showX = i === n - 1;
      const margin = {
        top: showY ? PAD : 0,
        bottom: showY && !showX ? PAD : 0,
        left: showX && !showY ? PAD : 0,
        right: showX ? PAD : 0,
      };
      const width = m.w + (showY ? LEFT : 0) + margin.left + margin.right;
      const height = m.h + (showX ? BOTTOM : 0) + margin.top + margin.bottom;
      const style: React.CSSProperties = { position: 'absolute', left: left0 - (showY ? LEFT : 0) - margin.left, top: top0 - margin.top };
      if (j > i) {
        const data = [{ x: 0.5, y: 1 - m.corrY, t: 'Corr:' }, { x: 0.5, y: 1 - m.valY, t: m.corr[i][j - i - 1] }];
        cells.push(
          <div key={key} style={style}>
            <ScatterChart width={width} height={height} margin={margin}>
              <CartesianGrid horizontal horizontalValues={m.lines.map((f: number) => 1 - f)} vertical={false} stroke="#e2e2e2" strokeWidth={2.5} />
              <CartesianGrid vertical verticalValues={[0.24, 0.54, 0.81]} horizontal={false} stroke="#cfcfcf" strokeWidth={1} />
              <XAxis dataKey="x" type="number" domain={[0, 1]} hide allowDataOverflow />
              <YAxis dataKey="y" type="number" domain={[0, 1]} hide allowDataOverflow />
              <Scatter data={data} shape={CorrShape} isAnimationActive={false} />
            </ScatterChart>
          </div>
        );
      } else if (i === j) {
        const vals: number[] = m.values[i];
        const lo = Math.min(...vals);
        const hi = Math.max(...vals);
        const ys: number[] = m.density[i];
        const inner = ys.map((y, k) => ({ x: lo + ((hi - lo) * k) / (ys.length - 1), y }));
        const data = [{ x: lo, y: 0 }, ...inner, { x: hi, y: 0 }, { x: lo, y: 0 }];
        const peak = Math.max(...ys);
        const dom = [-0.05 * peak, 1.05 * peak];
        const xTicks = m.ticks[j].map(Number);
        const densTicks: string[] = i === 0 ? m.densTicks : [];
        cells.push(
          <div key={key} style={style}>
            <LineChart width={width} height={height} margin={margin} data={data}>
              <CartesianGrid fill="#eeeeee" fillOpacity={1} stroke="#fff" strokeWidth={1.6}
                verticalValues={withMinor(xTicks, m.domains[j][0], m.domains[j][1])}
                horizontalValues={[0, 0.125, 0.25, 0.375, 0.5, 0.625, 0.75, 0.875, 1].map((f) => f * peak)} />
              <XAxis {...xAxisProps(showX, m.domains[j], m.ticks[j])} />
              <YAxis {...yAxisProps(showY, dom, densTicks)} />
              <Line dataKey="y" type="linear" dot={false} stroke="#111" strokeWidth={2.4} isAnimationActive={false} />
            </LineChart>
          </div>
        );
      } else {
        const xs: number[] = m.values[j];
        const ys: number[] = m.values[i];
        const data = xs.map((x, k) => ({ x, y: ys[k] }));
        const xTicks = m.ticks[j].map(Number);
        const yTicks = m.ticks[i].map(Number);
        cells.push(
          <div key={key} style={style}>
            <ScatterChart width={width} height={height} margin={margin}>
              <CartesianGrid fill="#eeeeee" fillOpacity={1} stroke="#fff" strokeWidth={1.6}
                verticalValues={withMinor(xTicks, m.domains[j][0], m.domains[j][1])}
                horizontalValues={withMinor(yTicks, m.domains[i][0], m.domains[i][1])} />
              <XAxis {...xAxisProps(showX, m.domains[j], m.ticks[j])} />
              <YAxis {...yAxisProps(showY, m.domains[i], m.ticks[i])} />
              <Scatter data={data} shape={Dot(m.r)} isAnimationActive={false} />
            </ScatterChart>
          </div>
        );
      }
    }
  }
  const strip: React.CSSProperties = {
    position: 'absolute', background: '#d9d9d9', color: '#333', fontFamily: FONT, fontSize: 24,
    display: 'flex', alignItems: 'center', justifyContent: 'center', overflow: 'hidden', whiteSpace: 'nowrap',
  };
  return (
    <>
      <div style={{ position: 'absolute', left: m.titleX - 300, top: m.titleTop, width: 600, textAlign: 'center', fontFamily: '"Liberation Serif", serif', fontSize: 64, lineHeight: 1, color: '#111' }}>{m.title}</div>
      {m.names.map((nm: string, j: number) => (
        <div key={`t${j}`} style={{ ...strip, left: m.x0 + j * m.px, top: m.stripTop, width: m.w, height: m.y0 - m.stripTop }}>
          <span style={{ flexShrink: 0 }}>{nm}</span>
        </div>
      ))}
      {m.names.map((nm: string, i: number) => (
        <div key={`r${i}`} style={{ ...strip, left: m.x0 + (n - 1) * m.px + m.w + 2, top: m.y0 + i * m.py, width: 52, height: m.h, fontSize: 26 }}>
          <span style={{ flexShrink: 0, writingMode: 'vertical-rl' }}>{nm}</span>
        </div>
      ))}
      {cells}
    </>
  );
}

export default function App() {
  return (
    <div style={{ position: 'absolute', left: 0, top: 0, width: 3330, height: 2780, background: '#fff', overflow: 'hidden', filter: 'blur(0.8px)' }}>
      {matrices.map((m) => <Matrix key={m.title} m={m} />)}
    </div>
  );
}
